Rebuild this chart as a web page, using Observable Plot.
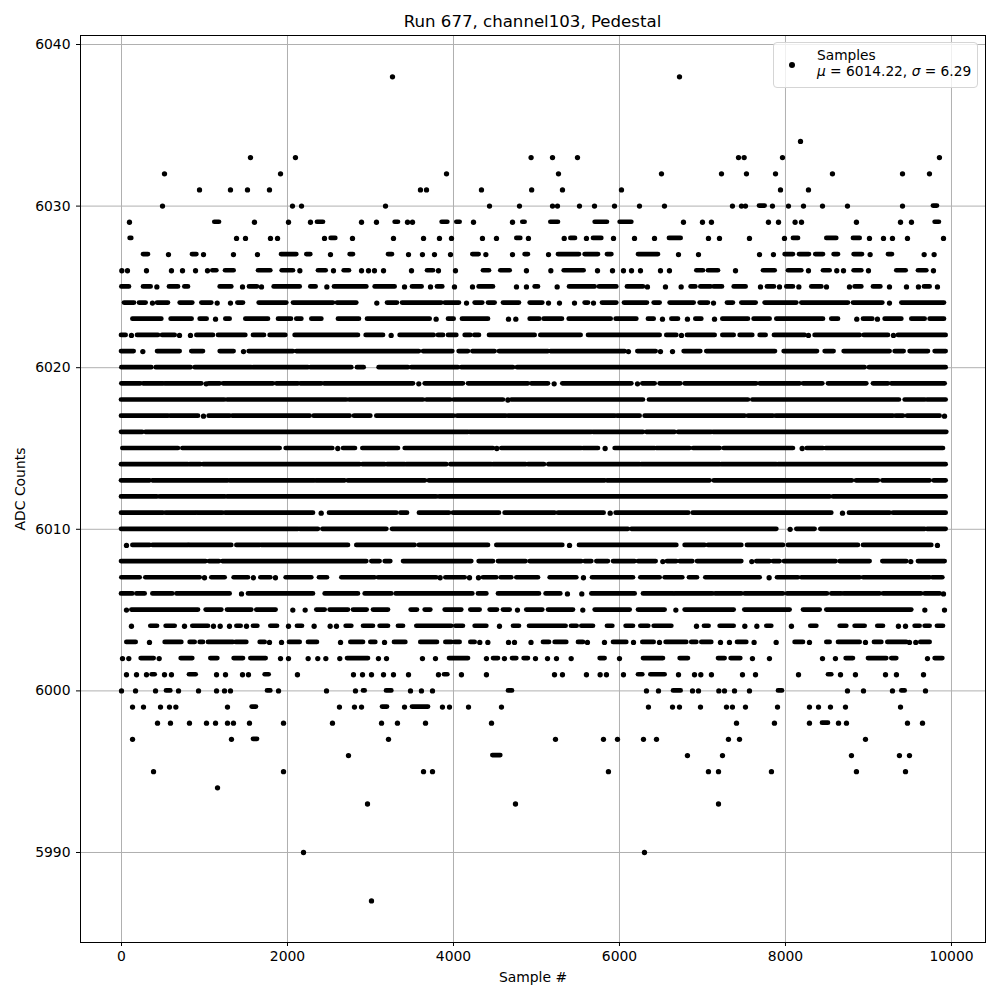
<!DOCTYPE html>
<html><head><meta charset="utf-8">
<script src="https://cdn.jsdelivr.net/npm/d3@7"></script>
<script src="https://cdn.jsdelivr.net/npm/@observablehq/plot@0.6"></script>
<style>
html,body{margin:0;padding:0;background:#fff;font-family:"DejaVu Sans",sans-serif;color:#000}
#wrap{position:relative;width:1000px;height:1000px;overflow:hidden}
#title{position:absolute;left:80px;width:905px;top:13px;text-align:center;font-size:16.6px;line-height:18px;white-space:pre}
#chart{position:absolute;left:0;top:35px}
#legend{position:absolute;left:773px;top:42px;width:205px;height:46px;box-sizing:border-box;background:rgba(255,255,255,.8);border:1px solid #d5d5d5;border-radius:4px;font-size:13.75px;line-height:16px}
#legend .t{position:absolute;left:43px;top:4px;white-space:nowrap}
#legend .d{position:absolute;left:15px;top:19px;width:6px;height:6px;border-radius:50%;background:#000}
svg text{font-family:"DejaVu Sans",sans-serif}
</style></head><body>
<div id="wrap">
<div id="title">Run 677, channel103, Pedestal</div>
<div id="chart"></div>
<div id="legend"><span class="d"></span><div class="t">Samples<br><i>μ</i> = 6014.22, <i>σ</i> = 6.29</div></div>
</div>
<script>
// Each level lists what the picture shows: a number is one readable sample,
// a [start, end] pair is a stretch where the dots merge and cannot be told apart.
const level6038=[3265,6723];
const level6034=[8181];
const level6033=[1554,2096,4935,5193,5494,7434,7502,7964,9855];
const level6032=[518,1916,3916,5265,6506,7229,7530,7880,8566,9410,9735];
const level6031=[940,1313,1518,1783,3602,3675,4337,4942,5313,6024,7940,8277];
const level6030=[494,2060,2169,3181,4434,4795,5193,5253,5518,5699,5940,6241,6542,7361,7470,7518,[7687,7755],7843,8036,8217,8446,8747,9410,[9783,9831]];
const level6029=[96,[1124,1181],1602,2012,2277,[2361,2434],2892,3072,[3297,3337],3446,3506,[3863,3932],[4040,4080],4241,4711,[4835,4863],[5173,5265],[5707,5855],[6008,6149],6771,7000,7108,7795,7916,8116,8193,8855,9386,9518,[9803,9855]];
const level6028=[[104,124],1386,1494,1795,1880,2446,[2526,2582],2783,3277,3639,3831,3976,4349,4518,[4763,4811],4903,5334,[5414,5470],5602,[5687,5787],5928,6181,6422,[6602,6743],7072,7205,7566,7988,[8096,8157],[8498,8618],[8819,8900],9012,9181,9289,9470,9904];
const level6027=[[265,325],566,[855,908],988,1349,1638,[1928,2112],[2233,2281],2518,[2755,2795],[3217,3265],3458,3626,3771,3964,[4233,4309],4390,4711,[4863,4903],5145,[5265,5518],[5586,5747],[5855,5908],[6229,6470],6711,6952,7687,7855,[7996,8096],[8169,8289],[8365,8458],[8586,8639],[8827,8928],9020,[9241,9289],9671,9791];
const level6026=[4,72,301,602,735,892,1036,[1100,1149],[1253,1357],[1651,1799],[1936,2072],2149,[2373,2466],2554,[2683,2747],2892,2976,3048,3157,3494,[3687,3759],3819,4024,[4361,4434],[4570,4683],4879,5173,[5334,5574],5735,5916,6048,6145,6253,6494,6602,[6932,7012],[7072,7193],7398,[7735,7876],[8036,8197],8277,[8458,8538],8618,8699,[8827,8920],9000,[9341,9454],[9602,9703],9783];
const level6025=[[4,96],[265,357],426,[578,687],[763,807],[1189,1329],1458,[1542,1638],1687,[1839,2153],[2281,2345],2474,[2566,2956],[3056,3297],3410,[3506,3622],3723,[3807,3871],4012,4229,[4309,4482],4759,4879,[4984,5024],5249,[5398,5707],[5759,5968],[6096,6289],6337,6554,6743,[6863,6920],[6980,7104],[7141,7241],[7382,7526],7699,[7783,7867],7928,[8016,8096],8161,[8317,8438],8494,8771,[8839,8920],[9060,9149],9253,9458,9602,[9675,9743],9831];
const level6024=[[36,157],[217,297],373,[434,566],[707,859],[968,1088],1153,1313,[1402,1470],[1659,1992],[2072,2554],[2602,2835],3076,[3205,3325],[3386,3859],[3900,4072],4157,[4261,4353],[4422,4502],[4602,4795],[4924,5076],5145,5277,5458,[5586,5627],5687,[5795,5968],[6060,6337],[6418,6490],[6610,6900],[6972,7072],7133,[7301,7373],[7474,7647],[7755,8137],[8197,8759],[8819,9173],9253,[9402,9916]];
const level6023=[[137,486],[598,851],[948,1032],1133,[1257,1309],[1498,1771],[1892,2048],[2112,2173],[2293,2414],[2614,2867],[2964,3719],3791,[3940,4008],[4108,4422],4663,4751,[4924,5040],[5092,5313],[5394,5900],[5960,6209],[6349,6418],6518,[6631,6711],6819,[6920,6992],7145,[7245,7554],[7622,7815],[7896,8458],[8558,8639],8859,[8940,9052],9108,[9201,9402],[9522,9683],[9743,9916]];
const level6022=[[0,56],120,[193,446],[494,647],699,831,[908,1108],[1169,1498],[1590,1723],[1791,1980],[2092,2855],[2948,3157],3249,[3357,3767],[3819,3880],[3940,4040],[4141,4209],[4257,4313],[4434,4984],[5052,5538],[5627,6490],[6570,6691],6747,[6819,7153],[7245,7382],[7454,7606],[7695,7767],[7867,8237],8277,[8357,8900],[8948,9241],9301,[9361,9936]];
const level6021=[[0,153],257,[434,707],[847,988],[1189,1357],1470,[1538,2072],[2112,3590],[3639,3992],[4068,4181],[4233,4502],[4554,5145],[5173,6068],6108,[6221,6442],6494,6639,[6779,6980],[7052,7880],[7984,8386],[8478,8586],[8707,9261],[9321,9430],[9502,9723],[9803,9936]];
const level6020=[[4,365],[418,839],[888,1570],[1590,2253],[2281,2775],[2843,2924],[3104,3458],[3498,4060],[4100,4723],[4771,8960],[9012,9936]];
const level6019=[[4,233],[265,506],[526,968],1020,[1056,1189],[1229,1831],[1871,2133],[2161,2414],[2446,3518],3582,[3659,4120],[4181,4903],[4944,5145],5213,[5317,6149],6217,[6281,6430],[6490,6739],[6791,7654],[7695,8177],[8217,8450],[8518,8980],[9060,9241],[9281,9924]];
const level6018=[[0,1245],[1277,2715],[2747,3639],[3679,3968],[4008,4602],4655,[4703,6289],[6361,7554],[7606,9373],[9442,9683],[9711,9936]];
const level6017=[[0,567],[594,928],988,[1056,1309],[1341,2273],[2321,2755],[2807,3004],[3076,4008],[4048,4634],[4663,5948],[5976,6249],[6309,7514],[7554,7855],[7888,9301],[9333,9422],[9470,9863],9916];
const level6016=[[0,257],[293,4181],[4201,5667],[5687,6289],[6329,6670],[6711,7112],[7133,9944]];
const level6015=[[16,687],[739,1912],[1984,2546],2606,[2675,2819],[2908,3337],[3418,4482],4522,[4582,5546],[5566,5747],5827,[5948,6430],[6450,6851],[6892,7213],[7261,8096],8201,[8261,8458],[8490,9904]];
const level6014=[[0,807],[827,956],[988,2875],[2908,3177],[3205,3418],[3438,3920],[3968,4462],[4482,4875],[4903,5096],[5149,6249],[6269,7213],[7233,7896],[7916,9936]];
const level6013=[[0,345],[378,1285],[1309,2329],[2349,2695],[2731,3663],[3707,5827],[5855,7092],[7141,8807],[8855,9120],[9173,9743],[9791,9936]];
const level6012=[[0,434],[466,1249],[1277,3799],[3831,8538],[8578,9936]];
const level6011=[[0,506],[538,900],[920,1221],[1253,2313],2406,[2506,3317],[3366,3446],[3590,3952],[4000,4554],[4622,5225],[5265,5815],5888,[5960,6835],[6888,8558],8687,[8771,9261],[9301,9936]];
const level6010=[[0,2133],[2153,2373],[2426,3197],[3265,6108],[6149,7896],8056,[8137,8357],[8426,9683],[9711,9936]];
const level6009=[60,[137,345],[378,807],[819,1329],[1390,1671],[1691,2735],[2835,3538],[3590,4422],[4522,5317],5398,[5518,6691],[6791,7032],[7072,7474],[7542,7976],[8036,8879],[8940,9763],9831];
const level6008=[[0,1020],[1060,1181],[1221,2956],[3016,3116],[3177,3245],[3398,4221],[4309,4482],[4542,4875],[4924,5546],[5586,5667],[5727,5867],[5928,6189],[6229,6442],6522,[6578,6691],[6731,6884],[6940,7474],7594,[7654,7815],[7855,7936],[7988,8610],[8659,9020],[9173,9462],9510,[9602,9924]];
const level6007=[[4,225],[293,948],1000,[1088,1249],[1357,1530],1590,[1679,1799],1855,[1984,2293],[2385,2482],[2655,3056],[3096,3799],3839,[3908,4141],4193,4301,[4361,4522],[4574,4703],[4763,5024],[5165,5486],5566,[5675,6169],[6257,6490],[6550,6763],[6843,6940],[7040,7695],7803,[7904,8157],[8197,8900],[8940,9743],[9775,9896]];
const level6006=[[0,137],[185,285],[378,618],[667,1309],1446,[1530,2313],[2454,2855],[2936,3257],[3309,4233],[4301,4402],[4542,5036],[5116,5293],5373,5546,[5667,6189],[6289,6651],[6671,7125],[7157,7474],[7514,7976],[8024,8506],[8558,8679],[8707,9140],[9181,9639],[9683,9863],9904];
const level6005=[60,[125,928],[1020,1209],[1277,1570],[1630,1863],2064,2213,[2353,2454],[2514,2735],[2795,2960],[3036,3217],[3490,3566],[3659,3727],[3900,4100],[4209,4321],[4442,4530],[4602,4683],4771,[4883,5076],[5145,5446],5558,[5707,6129],[6229,6550],6679,[6791,7382],[7510,8056],[8217,8418],[8498,9522],9679,9916];
const level6004=[120,[353,434],[538,647],759,[859,1048],1108,1189,1301,[1390,1442],1506,[1590,1643],[1799,1880],2012,[2120,2181],2321,2514,2590,[2707,2775],[2916,3036],[3116,3217],[3337,3398],[3558,3980],[4028,4120],[4261,4402],4554,[4723,4795],[4916,5357],[5422,5490],[5546,5687],[5855,5920],[6080,6169],[6257,6353],[6418,6631],6928,[7024,7080],[7213,7382],7510,7655,[7775,7835],8072,[8305,8378],[8659,8739],[8839,8960],[9112,9181],9361,9446,[9562,9622],[9683,9743],[9831,9904]];
const level6003=[[64,177],337,[526,727],[827,888],[948,988],[1048,1349],[1381,1510],[1671,1731],1783,1928,[2024,2153],[2253,2361],2639,[2763,2916],[3004,3064],3169,[3289,3426],[3606,3807],[3908,3980],[4020,4080],[4209,4261],4317,4414,4663,4735,4934,[5084,5157],[5225,5365],[5506,5566],5614,5819,[5928,6088],6169,[6281,6418],6482,[6562,6811],[6871,6932],[6992,7112],7217,7325,[7422,7534],7622,7888,[8116,8217],8289,[8498,8538],[8639,8900],8964,[9072,9161],[9233,9462],9494,9570,[9630,9743]];
const level6002=[12,88,[237,394],454,[719,859],[1076,1161],[1357,1470],[1558,1743],1916,2012,2249,2365,2462,2630,[2723,2976],3096,3193,3626,3783,[3952,4181],4397,[4482,4542],4614,[4711,4763],[4851,4903],4988,5133,5241,5418,[5767,5827],6000,[6289,6530],[6731,6831],[7193,7273],[7345,7462],7602,7807,8446,8602,[8731,8819],[9000,9221],[9281,9341],9711,[9803,9896]];
const level6001=[60,181,301,[369,406],518,602,[819,900],1145,1253,1458,1530,[1731,1779],2120,2795,2904,3012,3157,3277,3458,3819,[3892,3932],4096,4397,5217,5313,5602,5767,5843,6048,[6229,6281],[6378,6550],6711,6904,6980,7108,7482,7639,8157,[8518,8558],8663,8843,9205,9337,9663];
const level6000=[0,169,410,[542,594],687,928,1145,1241,1313,[1759,1799],1892,2470,2819,[2916,2936],[3193,3257],3482,3614,3747,[4663,4711],6325,6470,[6651,6743],6880,6952,7197,7265,7386,7566,[7916,7964],8747,8940,9289,[9402,9442],9687];
const level5999=[133,265,470,578,655,1277,[1574,1626],2626,2807,2892,[3145,3205],3410,[3506,3699],3867,3952,4181,4578,6349,6639,6723,6976,7289,7361,7518,7904,8289,8398,8542,8723,9386];
const level5998=[434,590,819,1024,1133,1277,1349,1542,1952,2542,3133,3325,3663,4458,7410,7867,8289,[8446,8518],8639,8735,9470,9651];
const level5997=[133,1325,[1590,1639],3217,5229,5807,5976,6289,6446,7313,7446,8964];
const level5996=[2735,[4474,4570],6819,7241,8795,9373,9494];
const level5995=[386,1952,3639,3747,5867,7072,7193,7831,8855,9446];
const level5994=[1157];
const level5993=[2964,4747,7193];
const level5990=[2193,6301];
const level5987=[3012];

const xTicks=[0,2000,4000,6000,8000,10000];
const yTicks=[5990,6000,6010,6020,6030,6040];

const levels=[[6038,level6038],[6034,level6034],[6033,level6033],[6032,level6032],[6031,level6031],[6030,level6030],[6029,level6029],[6028,level6028],[6027,level6027],[6026,level6026],[6025,level6025],[6024,level6024],[6023,level6023],[6022,level6022],[6021,level6021],[6020,level6020],[6019,level6019],[6018,level6018],[6017,level6017],[6016,level6016],[6015,level6015],[6014,level6014],[6013,level6013],[6012,level6012],[6011,level6011],[6010,level6010],[6009,level6009],[6008,level6008],[6007,level6007],[6006,level6006],[6005,level6005],[6004,level6004],[6003,level6003],[6002,level6002],[6001,level6001],[6000,level6000],[5999,level5999],[5998,level5998],[5997,level5997],[5996,level5996],[5995,level5995],[5994,level5994],[5993,level5993],[5990,level5990],[5987,level5987]];
const singles=[],spans=[];
for(const [y,list] of levels)for(const e of list){
  if(Array.isArray(e))spans.push({y,x1:e[0],x2:e[1]});else singles.push({y,x:e});
}
const fmt=d=>String(d);
const chart=Plot.plot({
  width:1000,height:965,marginLeft:80,marginRight:15,marginTop:0,marginBottom:58,
  style:{fontFamily:"DejaVu Sans",fontSize:"13.9px",background:"transparent",color:"#000"},
  x:{domain:[-494,10410]},
  y:{domain:[5984.43,6040.557]},
  marks:[
    Plot.gridX(xTicks,{stroke:"#b0b0b0",strokeOpacity:1,strokeWidth:1}),
    Plot.gridY(yTicks,{stroke:"#b0b0b0",strokeOpacity:1,strokeWidth:1}),
    Plot.ruleY(spans,{y:"y",x1:"x1",x2:"x2",dy:-0.5,stroke:"#000",strokeWidth:4.7,strokeLinecap:"round"}),
    Plot.dot(singles,{x:"x",y:"y",r:2.65,fill:"#000",stroke:"none"}),
    Plot.frame({stroke:"#000",strokeWidth:1,fill:"none"}),
    Plot.axisX({ticks:xTicks,tickFormat:fmt,tickSize:4,tickPadding:5,stroke:"#000",label:"Sample #",labelAnchor:"center",labelArrow:"none",labelOffset:39,fontSize:13.9}),
    Plot.axisY({ticks:yTicks,tickFormat:fmt,tickSize:4,tickPadding:6,stroke:"#000",label:"ADC Counts",labelAnchor:"center",labelArrow:"none",labelOffset:65,fontSize:13.9})
  ]
});
document.getElementById("chart").appendChild(chart);
</script>
</body></html>
